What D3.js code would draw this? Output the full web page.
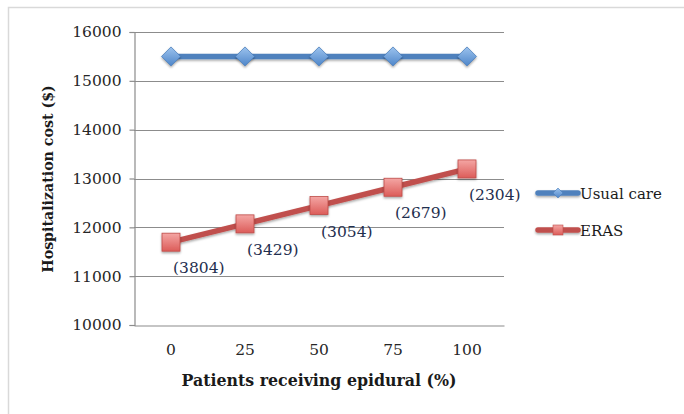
<!DOCTYPE html>
<html>
<head>
<meta charset="utf-8">
<script src="https://cdn.jsdelivr.net/npm/d3@7"></script>
<style>
  html, body { margin: 0; padding: 0; background: #fff; }
  svg { display: block; }
  text { font-family: "DejaVu Serif", serif; }
</style>
</head>
<body>
<svg id="chart" width="684" height="414"></svg>
<script>
// Share of patients receiving epidural (%)
const categories = ["0", "25", "50", "75", "100"];
// Hospitalization cost ($) under usual care
const usualCare = [15500, 15500, 15500, 15500, 15500];
// Savings of ERAS versus usual care ($), shown in parentheses
const savings = [3804, 3429, 3054, 2679, 2304];
// Hospitalization cost ($) under ERAS
const eras = [11696, 12071, 12446, 12821, 13196];
const yTicks = [10000, 11000, 12000, 13000, 14000, 15000, 16000];
const seriesNames = ["Usual care", "ERAS"];

const svg = d3.select("#chart");

// chart frame
svg.append("rect")
  .attr("x", 8.5).attr("y", 7.5)
  .attr("width", 690).attr("height", 420)
  .attr("fill", "none").attr("stroke", "#d9d9d9").attr("stroke-width", 1.5);

const plot = { left: 134, right: 504, top: 32, bottom: 325 };

const x = d3.scaleBand().domain(categories).range([plot.left, plot.right]);
const y = d3.scaleLinear().domain([10000, 16000]).range([plot.bottom, plot.top]);
const cx = c => x(c) + x.bandwidth() / 2;

// gridlines
svg.append("g").selectAll("line").data(yTicks.slice(1)).join("line")
  .attr("x1", plot.left).attr("x2", plot.right)
  .attr("y1", d => Math.round(y(d)) + 0.5).attr("y2", d => Math.round(y(d)) + 0.5)
  .attr("stroke", "#8c8c8c").attr("stroke-width", 1.2);

// y axis
const yAxis = svg.append("g")
  .attr("transform", `translate(${plot.left + 0.5},0)`)
  .call(d3.axisLeft(y).tickValues(yTicks).tickFormat(d3.format("d")).tickSize(5).tickPadding(8));
yAxis.select(".domain").attr("stroke", "#8c8c8c").attr("stroke-width", 1.2);
yAxis.selectAll(".tick line").attr("stroke", "#8c8c8c").attr("stroke-width", 1.2);
yAxis.selectAll(".tick text")
  .attr("font-family", "DejaVu Serif, serif").attr("font-size", 15.5).attr("fill", "#262626");

// x axis
const xAxis = svg.append("g")
  .attr("transform", `translate(0,${Math.round(plot.bottom) + 0.5})`)
  .call(d3.axisBottom(x).tickSize(0).tickPadding(18));
xAxis.select(".domain").attr("stroke", "#8c8c8c").attr("stroke-width", 1.2);
xAxis.selectAll(".tick text")
  .attr("font-family", "DejaVu Serif, serif").attr("font-size", 15.5).attr("fill", "#262626");

// axis titles
svg.append("text")
  .attr("x", 319).attr("y", 386)
  .attr("text-anchor", "middle")
  .attr("font-size", 15.8).attr("font-weight", "bold").attr("fill", "#1a1a1a")
  .text("Patients receiving epidural (%)");
svg.append("text")
  .attr("transform", "translate(53,179) rotate(-90)")
  .attr("text-anchor", "middle")
  .attr("font-size", 14.2).attr("font-weight", "bold").attr("fill", "#1a1a1a")
  .text("Hospitalization cost ($)");

// gradients for markers
const defs = svg.append("defs");
const gBlue = defs.append("linearGradient").attr("id", "gBlue").attr("x1", 0).attr("y1", 0).attr("x2", 0).attr("y2", 1);
gBlue.append("stop").attr("offset", "0%").attr("stop-color", "#9cc3ee");
gBlue.append("stop").attr("offset", "100%").attr("stop-color", "#4f86c9");
const gRed = defs.append("linearGradient").attr("id", "gRed").attr("x1", 0).attr("y1", 0).attr("x2", 0).attr("y2", 1);
gRed.append("stop").attr("offset", "0%").attr("stop-color", "#f4a6a4");
gRed.append("stop").attr("offset", "100%").attr("stop-color", "#dc5c59");
// soft drop shadow; generous user-space region so flat lines and translated marks keep it
const shadow = defs.append("filter").attr("id", "shadow")
  .attr("filterUnits", "userSpaceOnUse")
  .attr("x", -1000).attr("y", -1000).attr("width", 3000).attr("height", 3000);
shadow.append("feDropShadow").attr("dx", 0).attr("dy", 1.5).attr("stdDeviation", 1.2)
  .attr("flood-color", "#000").attr("flood-opacity", 0.35);

const line = d3.line().x((d, i) => cx(categories[i])).y(d => y(d));

// Usual care series
svg.append("path").datum(usualCare)
  .attr("d", line).attr("fill", "none")
  .attr("stroke", "#4f81bd").attr("stroke-width", 5.5).attr("filter", "url(#shadow)");
svg.append("g").selectAll("path").data(usualCare).join("path")
  .attr("transform", (d, i) => `translate(${cx(categories[i])},${y(d)})`)
  .attr("d", "M0,-9.5L9.5,0L0,9.5L-9.5,0Z")
  .attr("fill", "url(#gBlue)").attr("stroke", "#4a7ebb").attr("stroke-width", 0.8)
  .attr("filter", "url(#shadow)");

// ERAS series
svg.append("path").datum(eras)
  .attr("d", line).attr("fill", "none")
  .attr("stroke", "#c0504d").attr("stroke-width", 5.5).attr("filter", "url(#shadow)");
svg.append("g").selectAll("rect").data(eras).join("rect")
  .attr("x", (d, i) => cx(categories[i]) - 9).attr("y", d => y(d) - 9)
  .attr("width", 18).attr("height", 18)
  .attr("fill", "url(#gRed)").attr("stroke", "#be4b48").attr("stroke-width", 0.8)
  .attr("filter", "url(#shadow)");

// savings labels
svg.append("g").selectAll("text").data(savings).join("text")
  .attr("x", (d, i) => cx(categories[i]) + 2)
  .attr("y", (d, i) => y(eras[i]) + 31)
  .attr("font-size", 15.5).attr("fill", "#1f2f4f")
  .text(d => `(${d})`);

// legend
const legend = svg.append("g");
const legendY = [193, 230];
const legendColors = ["#4f81bd", "#c0504d"];
seriesNames.forEach((name, i) => {
  const g = legend.append("g").attr("transform", `translate(0,${legendY[i]})`);
  g.append("line").attr("x1", 538).attr("x2", 578).attr("y1", 0).attr("y2", 0)
    .attr("stroke", legendColors[i]).attr("stroke-width", 5.5).attr("stroke-linecap", "round")
    .attr("filter", "url(#shadow)");
  if (i === 0) {
    g.append("path").attr("transform", "translate(558,0)").attr("d", "M0,-5L5,0L0,5L-5,0Z")
      .attr("fill", "url(#gBlue)").attr("stroke", "#4a7ebb").attr("stroke-width", 0.6);
  } else {
    g.append("rect").attr("x", 553).attr("y", -5).attr("width", 10).attr("height", 10)
      .attr("fill", "url(#gRed)").attr("stroke", "#be4b48").attr("stroke-width", 0.6);
  }
  g.append("text").attr("x", 580).attr("y", 5.5)
    .attr("font-size", 15).attr("fill", "#1a1a1a").text(name);
});
</script>
</body>
</html>
